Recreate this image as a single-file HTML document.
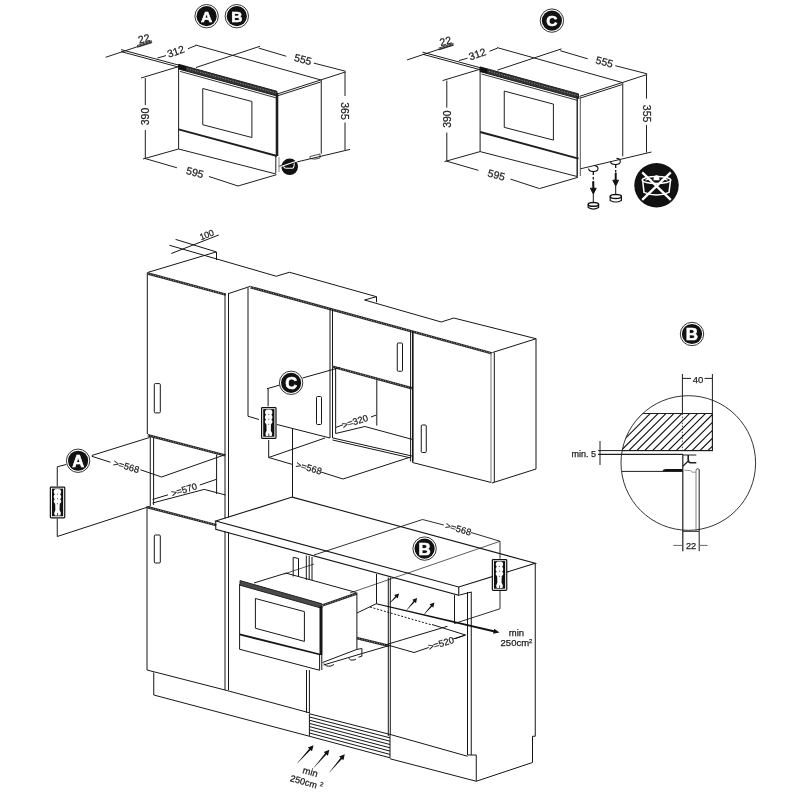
<!DOCTYPE html>
<html><head><meta charset="utf-8">
<style>
html,body{margin:0;padding:0;background:#fff;}
svg{display:block;will-change:transform;}
text{font-family:"Liberation Sans",sans-serif;}
.dt text,text.dt{stroke:#1e1e1e;stroke-width:0.25;}
</style></head>
<body>
<svg width="800" height="800" viewBox="0 0 800 800">
<defs>
<g id="ovenBase" stroke="#1e1e1e" stroke-width="1" fill="none">
  <path d="M105.6 57.3 L151.9 41.9"/>
  <path d="M137 45.6 L152 40.8 M137.5 47.2 L152.2 42.6" stroke-width="0.9"/>
  <path d="M121 49.6 L179 65.2 M121 51.6 L179 67.2"/>
  <path d="M157.5 58 L166 55.6 M188 48.7 L196 45.5"/>
  <path d="M141 78 L179 66.5"/>
  <path d="M145.3 78 V105 M145.3 130 V158.8"/>
  <path d="M143 159 L178.6 149"/>
  <path d="M145 158.5 L176.9 167.75 M209 176.5 L238 186 L276.5 174.7"/>
  <path d="M178.6 65 V149 L276 174"/>
  <path d="M202.75 88.5 L251.9 101.5 V137.5 L202.75 124.75 Z"/>
  <path d="M178.6 129.4 L277 156" stroke-width="2"/>
  <path d="M178.6 64.3 L277 91.3 L277 96 L178.6 69 Z" fill="#333" stroke-width="1"/>
  <path d="M180 66.6 L276 93" stroke="#bbb" stroke-width="0.7" stroke-dasharray="1 1.6"/>
  <path d="M180 71.4 L276 97.8" stroke-width="0.9"/>
  <path d="M178.6 64.5 L186 66.5 L186 71 L178.6 69 Z" fill="#111" stroke="none"/>
  <path d="M195.6 45 L321 80"/>
  <path d="M196 67.5 L260 46.25"/>
  <path d="M258.75 48.1 L286.25 56.25 M313.75 63.1 L345.6 71.25"/>
  <path d="M278 93.75 L320.6 80 M278 95.7 L320.6 82"/>
  <path d="M321.25 80 V153.75"/>
  <path d="M320.6 80 L345.6 71.9"/>
  <path d="M345 72 V96 M345 122.5 V150"/>
  <path d="M278.75 166.25 L350 149.4"/>
  <g class="dt" stroke="none" fill="#1e1e1e" font-size="10.5">
    <text transform="translate(177,55) rotate(-19)" text-anchor="middle">312</text>
    <text transform="translate(145,42.2) rotate(-15)" text-anchor="middle">22</text>
    <text transform="translate(302,63) rotate(15)" text-anchor="middle">555</text>
    <text transform="translate(194,176) rotate(15)" text-anchor="middle">595</text>
    <text transform="translate(149.2,116.5) rotate(-90)" text-anchor="middle">390</text>
  </g>
</g>
<g id="tag">
  <rect x="0.6" y="0.6" width="14.4" height="30.8" rx="0.8" stroke="#111" stroke-width="1.2" fill="#fff"/>
  <rect x="2.2" y="2.1" width="11.2" height="27.6" fill="#111"/>
  <path d="M5.2 2.8 Q7.7 2.2 10.2 2.8 Q12.6 5.2 10.4 7.7 Q12.6 10.2 10.4 12.8 Q12.8 15 10 17.2 L9.8 23.5 L11.2 26.5 L10.6 29 H5 L4.4 26.5 L5.6 23.5 L5.4 17.2 Q2.6 15 5 12.8 Q2.8 10.2 5 7.7 Q2.8 5.2 5.2 2.8 Z" fill="#fff"/>
  <path d="M7.7 7.2 v0.9 M7.3 12.2 h1 M7.7 16.8 v1 M7.8 26.5 v2.5" stroke="#111" stroke-width="0.8"/>
</g>
<g id="mk">
  <circle r="11.7" fill="#fff" stroke="#333" stroke-width="1"/>
  <circle r="10.1" fill="#111"/>
</g>
<clipPath id="cB"><circle cx="688.3" cy="463" r="67.3"/></clipPath>
<pattern id="hatch" width="6.6" height="6.6" patternUnits="userSpaceOnUse" patternTransform="rotate(45)">
  <line x1="0" y1="0" x2="0" y2="6.6" stroke="#111" stroke-width="1.15"/>
</pattern>
</defs>

<!-- ===== Oven A/B (top-left) ===== -->
<use href="#ovenBase"/>
<path d="M277 93 V156" stroke="#1e1e1e" stroke-width="2.6"/>
<path d="M275.8 156 V173" stroke="#1e1e1e"/><path d="M279 157 V172" stroke="#888"/>
<text class="dt" transform="translate(341.2,111) rotate(90)" text-anchor="middle" font-size="10.5" fill="#1e1e1e">365</text>
<circle cx="289.7" cy="166.8" r="8.3" fill="#111"/>
<path d="M281 166.4 L297 160.9 M283.6 166.3 Q284 168.3 286.3 168.3 H292.3 Q294.2 168.1 294.2 163.2" stroke="#fff" stroke-width="1.1" fill="none"/>
<path d="M310 156.5 L320 154 L320 158 Q315 160 310 158.5 Z" fill="none" stroke="#222" stroke-width="0.8"/>

<g font-weight="bold" text-anchor="middle">
  <g transform="translate(206.6,16.2)"><use href="#mk"/><text y="5.6" font-size="15.5" fill="#fff" stroke="#fff" stroke-width="0.6">A</text></g>
  <g transform="translate(236.8,16.2)"><use href="#mk"/><text y="5.6" font-size="15.5" fill="#fff" stroke="#fff" stroke-width="0.6">B</text></g>
  <g transform="translate(551.9,20.6)"><use href="#mk"/><text y="5.6" font-size="15.5" fill="#fff" stroke="#fff" stroke-width="0.6">C</text></g>
</g>

<!-- ===== Oven C (top-right) ===== -->
<use href="#ovenBase" transform="translate(301.5,2.6)"/>
<path d="M577.2 96 V176.5" stroke="#1e1e1e" stroke-width="1.4"/>
<path d="M580.3 96.5 V176" stroke="#555" stroke-width="1"/>
<text class="dt" transform="translate(642.7,113.6) rotate(90)" text-anchor="middle" font-size="10.5" fill="#1e1e1e">355</text>

<!-- no-pot icon -->
<g transform="translate(656.5,185.2)">
  <circle r="22.2" fill="#111"/>
  <path d="M-14.3 -12.9 L14.3 14.6 M14.3 -12.9 L-14.3 14.6" stroke="#fff" stroke-width="2.3"/>
  <ellipse cx="0" cy="-5.2" rx="14.3" ry="3.6" fill="none" stroke="#fff" stroke-width="1.5"/>
  <path d="M-13.8 -4.5 L-12.5 7.2 Q0 12.5 12.5 7.2 L14 -4.5" fill="none" stroke="#fff" stroke-width="1.5"/>
  <path d="M-3 -5 Q-3 -10 0 -10 Q3 -10 3 -5 Z" fill="#fff"/>
  <path d="M-11 -5 q3 -2 6 0 M5 -5 q3 -2 6 0" stroke="#fff" stroke-width="1.2" fill="none"/>
</g>
<!-- feet C -->
<g stroke="#141414" stroke-width="1" fill="none">
  <path d="M588.6 168.6 Q588.6 171.6 593.3 171.6 Q598 171.6 598 168.6 Q598 166 594.5 165.6" stroke-width="1.1"/>
  <path d="M593.3 171.6 V175 M593.3 177 V179.5 M593.3 181 V186" stroke-width="1.3"/>
  <path d="M593.3 181.5 V189" stroke-width="2"/>
  <path d="M590.4 188.2 L593.3 194 L596.2 188.2 Z" fill="#111"/>
  <path d="M593.3 194 V202.5"/>
  <ellipse cx="593.4" cy="204.4" rx="5.2" ry="1.9" fill="#fff" stroke-width="1.5"/>
  <path d="M588.2 204.4 V207.6 Q593.4 210.6 598.6 207.6 V204.4" stroke-width="1.2"/>
  <path d="M610.6 161.6 Q610.6 164.6 615.4 164.6 Q620.3 164.6 620.3 161.6 Q620.3 158.6 616.5 158.4" stroke-width="1.1"/>
  <path d="M615.7 164.6 V168 M615.7 170 V172.5" stroke-width="1.3"/>
  <path d="M615.7 173 V181" stroke-width="2"/>
  <path d="M612.8 180.2 L615.7 186 L618.6 180.2 Z" fill="#111"/>
  <path d="M615.7 186 V195"/>
  <ellipse cx="615.8" cy="196.6" rx="5.6" ry="2" fill="#fff" stroke-width="1.5"/>
  <path d="M610.2 196.6 V200.4 Q615.8 203.6 621.4 200.4 V196.6" stroke-width="1.2"/>
</g>

<!-- ===== Kitchen ===== -->
<g stroke="#161616" stroke-width="1" fill="none">
  <!-- tall cabinet top / 100 dim -->
  <path d="M147.5 272.5 L216.25 251.9"/>
  <path d="M147.8 273.5 L225.8 294.6" stroke="#262626" stroke-width="2.5"/><path d="M147.8 273.5 L225.8 294.6" stroke="#fff" stroke-width="0.7" stroke-dasharray="0.9 1.7" opacity="0.85"/>
  <path d="M216.5 251.9 V260"/>
  <path d="M175.6 239.4 L216.25 251.9"/>
  <path d="M169.4 245.25 L276.25 276.25 L289.4 272.25 L376.5 296.7 V302.25 M376.5 296.7 L364.5 300 L441.25 322 L453.75 318 L536.25 338.75"/>
  <path d="M171.25 253.5 L218.75 235"/>
  <path d="M147.3 272.5 V434.25"/>
  <path d="M225 293.75 V518.5 M228.5 293.75 V517.4 M225 531.1 V690 M228.5 532.1 V690"/>
  <path d="M228 293.75 L250.6 286.25"/>
  <!-- upper cabinets top front -->
  <path d="M250.6 287.2 L492 353.4" stroke="#262626" stroke-width="2.5"/><path d="M250.6 287.2 L492 353.4" stroke="#fff" stroke-width="0.7" stroke-dasharray="0.9 1.7" opacity="0.85"/>
  <!-- upper-left wall cabinet -->
  <path d="M248 287.5 V416.25 L259 419.5 M277 424.5 L330 438"/>
  <path d="M330 308.25 V438 M332.5 309 V438"/>
  <rect x="316.5" y="396.5" width="5" height="28" rx="1"/>
  <!-- middle small cabinet -->
  <path d="M332.5 366.6 L411.8 388.2" stroke="#262626" stroke-width="2.5"/><path d="M332.5 366.6 L411.8 388.2" stroke="#fff" stroke-width="0.7" stroke-dasharray="0.9 1.7" opacity="0.85"/>
  <path d="M410.6 330.6 V461.5 M413.1 331.3 V461.5"/>
  <rect x="397.25" y="343" width="5.25" height="28.25" rx="1"/>
  <path d="M335.65 367.5 V433.5 M376.8 380 V425.6"/>
  <path d="M335.65 433.5 L364.9 426.5 L413 439.6"/>
  <path d="M336 427.4 L343 424.75 M371 417 L376.25 415"/>
  <path d="M332.5 437.9 L413 456.25 M332.5 440 L411 458"/>
  <!-- upper right cabinet -->
  <path d="M412.5 331.25 V462.5 L491.25 482.5"/>
  <path d="M491 353 V482.5" stroke="#777"/>
  <path d="M494.3 352.5 V482"/>
  <path d="M492.5 352.5 L536 338.75 V469 L492 483"/>
  <rect x="421.25" y="425" width="5" height="27.5" rx="1"/>
  <!-- C leader & tag -->
  <path d="M302.5 378 L340 367.5"/>
  <path d="M280 385 L266.9 388.75 M268.1 388.75 V406.25"/>
  <path d="M268.7 440 V457.5 L325 438 M268.7 457.5 L293 464.6 M321 472 L343 479 L410.4 457.1"/>
  <path d="M292.5 428 V497"/>
  <!-- tall cabinet niche A -->
  <path d="M147.8 435.3 L225 455.4" stroke="#262626" stroke-width="2.5"/><path d="M147.8 435.3 L225 455.4" stroke="#fff" stroke-width="0.7" stroke-dasharray="0.9 1.7" opacity="0.85"/>
  <path d="M150.25 436.5 V506.25 M153.6 437.5 V505"/>
  <path d="M216.6 454.5 V494"/>
  <rect x="154.3" y="383.6" width="6" height="29.3" rx="1"/>
  <path d="M91.75 455.5 L149.5 437.5"/>
  <path d="M91.75 456.25 L110.5 462.25 M140.5 469.75 L161.5 477 L225.6 454.5"/>
  <path d="M152.5 499.5 L168 494.8 M199.75 485 L216.6 479.25"/>
  <path d="M152.5 503 L204.25 489.4 L225.6 495"/>
  <path d="M147.8 507.3 L216.3 525.1" stroke="#262626" stroke-width="2.5"/><path d="M147.8 507.3 L216.3 525.1" stroke="#fff" stroke-width="0.7" stroke-dasharray="0.9 1.7" opacity="0.85"/>
  <path d="M66.25 464.5 L57.25 466.75 V486.25 M57.25 518.5 V536.5 L149.5 506.5"/>
  <!-- countertop -->
  <path d="M215.75 521 L292.25 497.1 L535.25 563.25 L458.75 587 Z" stroke-width="1.1"/>
  <path d="M215.75 521 V529.3 L458.75 595.2 V587" stroke-width="1.1"/>
  <path d="M459.5 595 L471.5 592"/>
  <path d="M535.25 563.25 V736.25 H532.5 V762.5 L476.25 781.25 V755"/>
  <!-- B dim -->
  <path d="M314 555 L422.5 519.5 L443.75 525 M471 532.5 L500 541.25 V558.75 M500 591 V608.75 L454.5 623.5" stroke-width="0.9"/>
  <path d="M284 574 L314 564" stroke-width="0.7"/>
  <path d="M350 593 L500 541.25" stroke-width="0.7"/>
  <!-- tall cab lower -->
  <path d="M147 506 V670 L225 690 L309.4 712.8"/>
  <rect x="154.3" y="535" width="6" height="28" rx="1"/>
  <path d="M153.75 672.5 V695 L309.4 736.25"/>
  <path d="M306.5 670 V712.8 M309.4 670 V713"/>
  <path d="M306.3 555.5 V580 M309.2 556 V580 M312 557 V580"/>
  <path d="M293.2 576.5 V557.3 L298.5 558.5 V577"/>
  <!-- vent grille -->
  <path d="M309.4 713.75 L390 734.4 M309.4 736.25 L390 757.8 M309.4 713.75 V736.25 M390 734.4 V757.8"/>
  <path d="M309.4 717 L390 737.8 M309.4 720.2 L390 741.2 M309.4 723.4 L390 744.5 M309.4 726.6 L390 747.8 M309.4 729.8 L390 751.1 M309.4 733 L390 754.4"/>
  <path d="M390 734.4 L467.5 756.25 M390 758.75 L476.25 781.25 M467.5 755 L476.25 755"/>
  <path d="M388.3 577.5 V736 M390.3 577.5 V734.4"/>
  <path d="M467.5 592 V755 M471.25 592 V755"/>
  <!-- built-in oven -->
  <path d="M239.6 584 V649.25 L319.6 670.25"/>
  <path d="M240 580.6 L321.9 603.8 L321.9 608.3 L240 585.2 Z" fill="#4a4a4a" stroke="#222"/>
  <path d="M321 606 V655" stroke-width="3"/>
  <path d="M319.6 655 V670.3 M321.8 655 V670"/>
  <path d="M255.4 598.5 L304.4 611.6 V641.4 L255.4 628.25 Z"/>
  <path d="M239.6 634.4 L320.1 654.5" stroke-width="1.8"/>
  <path d="M254 583 L286 573.1 L356 592.4"/>
  <path d="M322.5 605.4 L356.7 593.5" stroke="#262626" stroke-width="2.5"/><path d="M322.5 605.4 L356.7 593.5" stroke="#fff" stroke-width="0.7" stroke-dasharray="0.9 1.7" opacity="0.85"/>
  <path d="M356.9 592.5 V649.4 L322.5 662.5"/>
  <path d="M323.5 665 L361.25 653.75"/>
  <path d="M356.9 649.4 L361.9 648.5 V656.2 L358.5 657.2"/>
  <path d="M324 663.5 Q326 667 331 666 L334 664.5 M348.5 658 Q350 661 354 660 L356 659"/>
  <!-- right of oven -->
  <path d="M356.9 613 L376.25 603.75 M376.5 574 V603.75"/>
  <path d="M370 607 L432 625" stroke-dasharray="2 1.6"/>
  <path d="M432 624.5 L465.5 635 L453 639"/>
  <path d="M376.14 604.24 L493.41 632.30 L493.07 633.76 L499.50 632.60 L494.25 628.70 L493.91 630.16 L376.36 603.26 Z" fill="#111" stroke="none"/>
  <path d="M356.5 638 L389.4 646" stroke="#262626" stroke-width="2.5"/><path d="M356.5 638 L389.4 646" stroke="#fff" stroke-width="0.7" stroke-dasharray="0.9 1.7" opacity="0.85"/>
  <path d="M385 645 L447.5 626.25"/>
  <path d="M389.4 645.5 L414 652.5 L428.75 647.5 M455 638.75 L465.5 635"/>
  <path d="M361.25 653.75 L389.4 645.5"/>
  <path d="M454.5 595 V623.5"/>
  <path d="M389.51 603.51 L396.50 597.36 L397.71 598.56 L399.10 593.60 L394.16 595.04 L395.37 596.24 L389.29 603.29 Z M406.71 610.20 L414.74 602.01 L416.02 603.13 L417.10 598.10 L412.26 599.84 L413.53 600.96 L406.49 610.00 Z M424.01 614.70 L432.04 606.51 L433.32 607.63 L434.40 602.60 L429.56 604.34 L430.83 605.46 L423.79 614.50 Z" fill="#111" stroke="none"/>
  <!-- bottom vent arrows -->
  <path d="M297.47 763.17 L310.58 749.88 L311.99 751.16 L313.60 745.20 L307.83 747.40 L309.24 748.67 L297.33 763.03 Z M313.98 767.67 L326.48 754.45 L327.92 755.69 L329.40 749.70 L323.68 752.02 L325.12 753.27 L313.82 767.53 Z M329.48 772.46 L341.93 758.98 L343.38 760.21 L344.80 754.20 L339.11 756.59 L340.56 757.82 L329.32 772.34 Z" fill="#111" stroke="none"/>
</g>

<!-- kitchen markers -->
<g font-weight="bold" text-anchor="middle">
  <g transform="translate(78.1,460.75)"><use href="#mk"/><text y="6" font-size="16.5" fill="#fff" stroke="#fff" stroke-width="0.6">A</text></g>
  <g transform="translate(291.1,382.8)"><use href="#mk"/><text y="6" font-size="16.5" fill="#fff" stroke="#fff" stroke-width="0.6">C</text></g>
  <g transform="translate(424.6,548.6)"><use href="#mk"/><text y="6.2" font-size="17" fill="#fff" stroke="#fff" stroke-width="0.6">B</text></g>
  <g transform="translate(692,334)"><use href="#mk"/><text y="6.2" font-size="17" fill="#fff" stroke="#fff" stroke-width="0.6">B</text></g>
</g>
<use href="#tag" transform="translate(49.75,486.5)"/>
<use href="#tag" transform="translate(261,407)"/>
<use href="#tag" transform="translate(491.75,559)"/>

<!-- kitchen texts -->
<g class="dt" fill="#1e1e1e" font-size="9.3">
  <text transform="translate(207.8,237.6) rotate(-21)" text-anchor="middle" font-size="8.8">100</text>
  <text transform="translate(125.5,469.5) rotate(16)" text-anchor="middle">&gt;=568</text>
  <text transform="translate(308,471) rotate(16)" text-anchor="middle">&gt;=568</text>
  <text transform="translate(457.5,532) rotate(16)" text-anchor="middle">&gt;=568</text>
  <text transform="translate(185,492.8) rotate(-17)" text-anchor="middle">&gt;=570</text>
  <text transform="translate(356,424.6) rotate(-17)" text-anchor="middle">&gt;=320</text>
  <text transform="translate(442,646.5) rotate(-17)" text-anchor="middle">&gt;=520</text>
  <text x="516.5" y="636" text-anchor="middle" font-size="9.5">min</text>
  <text x="516.5" y="646" text-anchor="middle" font-size="9.5">250cm<tspan font-size="6" dy="-3.5">2</tspan></text>
  <text transform="translate(309.4,775) rotate(16)" text-anchor="middle" font-size="9.5">min</text>
  <text transform="translate(305.6,785.5) rotate(16)" text-anchor="middle" font-size="9.2">250cm <tspan font-size="6" dy="-3.5">2</tspan></text>
</g>

<!-- ===== detail B ===== -->
<g stroke="#1e1e1e" stroke-width="1" fill="none">
  <circle cx="688.3" cy="463" r="67.3" stroke-width="0.9"/>
  <g clip-path="url(#cB)">
    <clipPath id="cH"><rect x="600" y="413.1" width="112.4" height="37.9"/></clipPath>
    <path clip-path="url(#cH)" d="M565.30 451 L603.20 413.1 M573.20 451 L611.10 413.1 M581.10 451 L619.00 413.1 M589.00 451 L626.90 413.1 M596.90 451 L634.80 413.1 M604.80 451 L642.70 413.1 M612.70 451 L650.60 413.1 M620.60 451 L658.50 413.1 M628.50 451 L666.40 413.1 M636.40 451 L674.30 413.1 M644.30 451 L682.20 413.1 M652.20 451 L690.10 413.1 M660.10 451 L698.00 413.1 M668.00 451 L705.90 413.1 M675.90 451 L713.80 413.1 M683.80 451 L721.70 413.1 M691.70 451 L729.60 413.1 M699.60 451 L737.50 413.1 M707.50 451 L745.40 413.1 M715.40 451 L753.30 413.1" stroke="#151515" stroke-width="1.1"/>
    <rect x="600" y="413.5" width="112.4" height="37.1" fill="none" stroke="#1e1e1e"/>
  </g>
  <path d="M682.4 413.6 V451" stroke-dasharray="1.5 1.5" stroke-width="0.8"/>
  <path d="M682.4 374 V413.6 M712.4 374 V451 M682.4 378.4 H691 M704.5 378.4 H712.4"/>
  <path d="M598 450.6 H712.4 M600 441 V465"/>
  <path d="M598 454.4 H683 M683 455 H696.3" stroke-width="1.2"/>
  <path d="M682.8 454.4 V551.2" stroke-width="1.2"/>
  <path d="M696.3 462.8 H690.8 Q688.2 462.8 688.2 459.5 V455" stroke-width="1.6"/>
  <path d="M682.8 466.3 L688 461.3" stroke-width="1.2"/>
  <path d="M662.3 471.4 Q663 469 666 469 H682.5 V471.4 Z" fill="#111" stroke="none"/>
  <path d="M622 471.4 H683"/>
  <path d="M684.4 470.2 L690.6 470.6 L691.9 472.2 H696" stroke="#888" stroke-width="0.9"/>
  <path d="M696 469.6 V531.3" stroke="#777" stroke-width="0.9"/>
  <path d="M699.2 469.4 V551.2"/>
  <path d="M696 469.6 Q697.6 468 699.2 469.4" stroke-width="0.8"/>
  <path d="M683 531.3 H699"/>
  <path d="M673.25 545.4 H682.5 M700 545.4 H707.6" stroke="#666"/>
</g>
<g class="dt" fill="#1e1e1e" font-size="9.5">
  <text x="698" y="382.5" text-anchor="middle">40</text>
  <text x="596" y="456.5" text-anchor="end" font-size="9">min. 5</text>
  <text x="691" y="549.3" text-anchor="middle" font-size="9.2">22</text>
</g>
</svg>
</body></html>
